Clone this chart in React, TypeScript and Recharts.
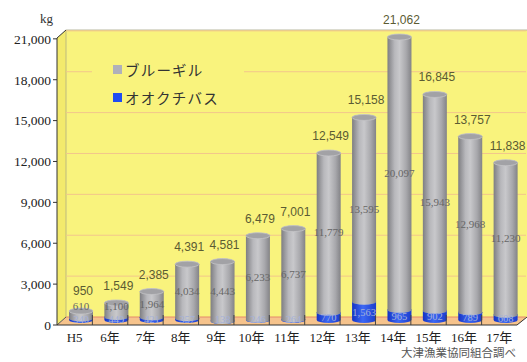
import { Bar, BarChart, CartesianGrid, LabelList, Legend, XAxis, YAxis } from 'recharts'

// catch by fiscal year (kg)
const years = ['H5', '6年', '7年', '8年', '9年', '10年', '11年', '12年', '13年', '14年', '15年', '16年', '17年']
const bluegill = [610, 1100, 1964, 4034, 4443, 6233, 6737, 11779, 13595, 20097, 15943, 12968, 11230]
const bass = [340, 449, 421, 357, 138, 246, 264, 770, 1563, 965, 902, 789, 608]
const yTicks = [0, 3000, 6000, 9000, 12000, 15000, 18000, 21000]

const data = years.map((year, i) => ({
  year,
  bass: bass[i],
  bluegill: bluegill[i],
  total: bass[i] + bluegill[i],
}))

// frame geometry
const W = 527
const H = 362
const LEFT = 57
const RIGHT = 517
const TOP = 38
const BOTTOM = 325
const DX = 9
const DY = 8
const BAR_DX = 6
const BAND = (RIGHT - LEFT) / years.length

const WALL = '#f9f37d'
const SERIF = '"Liberation Serif", "Noto Sans CJK JP", serif'
const SANS = '"Liberation Sans", Arial, sans-serif'
const CJK = '"Noto Sans CJK JP", sans-serif'

const fmt = (v: number) => v.toLocaleString('en-US')

function cylinderPath(x0: number, x1: number, yt: number, yb: number, ry: number) {
  const rx = (x1 - x0) / 2
  return `M${x0},${yt} L${x0},${yb} A${rx},${ry} 0 0 0 ${x1},${yb} L${x1},${yt} A${rx},${ry} 0 0 0 ${x0},${yt} Z`
}

function BluegillShape(p: any) {
  const { x, y, width, height } = p
  if (!height) return null
  const x0 = x + BAR_DX
  const x1 = x0 + width
  const yt = y - 1
  const yb = y + height - 2
  return (
    <g>
      <path d={cylinderPath(x0, x1, yt, yb, 3)} fill="url(#grayBody)" />
      <ellipse cx={(x0 + x1) / 2} cy={yt} rx={width / 2} ry={3} fill="#a2a2a6" stroke="#c4c4c7" strokeWidth={0.8} />
    </g>
  )
}

function BassShape(p: any) {
  const { x, y, width, height } = p
  if (!height) return null
  const x0 = x + BAR_DX
  const x1 = x0 + width
  const yt = y - 2
  const yb = Math.max(y + height - 5, yt)
  return (
    <g>
      <path d={cylinderPath(x0, x1, yt, yb, 3)} fill="url(#blueBody)" />
      <ellipse cx={(x0 + x1) / 2} cy={yt} rx={width / 2} ry={3} fill="#4a78f8" />
    </g>
  )
}

function TotalLabel(p: any) {
  const { x, y, width, value } = p
  // keep clear of the inner label on the shortest bar
  const base = Math.min(y - 14, 295)
  return (
    <text x={x + width / 2 + BAR_DX + 2} y={base} textAnchor="middle" fontFamily={SANS} fontSize={12} fill="#5b5b33">
      {fmt(value)}
    </text>
  )
}

function BluegillLabel(p: any) {
  const { x, y, width, height, value } = p
  // short segments push their label up toward the cap
  const cy = Math.min(y + height / 2 - 2, 305.5)
  return (
    <text x={x + width / 2 + BAR_DX} y={cy} textAnchor="middle" dominantBaseline="central" fontFamily={SERIF} fontSize={11} fill="#666">
      {fmt(value)}
    </text>
  )
}

function BassLabel(p: any) {
  const { x, y, width, height, value } = p
  const cy = Math.min(y + height / 2 - 2, 319)
  return (
    <text x={x + width / 2 + BAR_DX} y={cy} textAnchor="middle" dominantBaseline="central" fontFamily={SERIF} fontSize={10.5} fill="#a4b0d8">
      {fmt(value)}
    </text>
  )
}

function YearTick(p: any) {
  const { x, y, payload, index } = p
  return (
    <g>
      {index < years.length - 1 && (
        <line x1={x + BAND / 2} x2={x + BAND / 2} y1={y - 10} y2={y} stroke="#444" strokeWidth={1} />
      )}
      <text x={x} y={y + 17} textAnchor="middle" fontFamily={SERIF} fontSize={13} fill="#222">
        {payload.value}
      </text>
    </g>
  )
}

function GridLine(p: any) {
  const { x1, x2, y1, y2 } = p
  if (y1 <= TOP + 0.5) return <g key={p.key} />
  const floor = y1 >= BOTTOM - 0.5
  return (
    <line
      key={p.key}
      x1={x1 + DX}
      x2={x2 + DX}
      y1={y1 - DY}
      y2={y2 - DY}
      stroke={floor ? '#e48a6c' : '#f2c68c'}
      strokeWidth={1}
    />
  )
}

function LegendBox(props: any) {
  const items = [...(props.payload || [])].reverse()
  const swatch: Record<string, string> = { bluegill: '#b0b0ba', bass: '#1f4cf2' }
  return (
    <div style={{ background: WALL, paddingLeft: 21, width: 131 }}>
      {items.map((it: any) => (
        <div key={it.dataKey} style={{ display: 'flex', alignItems: 'center', height: 28 }}>
          <span style={{ display: 'inline-block', width: 9, height: 9, background: swatch[it.dataKey], marginRight: 3 }} />
          <span style={{ fontFamily: CJK, fontSize: 14.5, letterSpacing: 1.2, color: '#333' }}>{it.value}</span>
        </div>
      ))}
    </div>
  )
}

export default function App() {
  return (
    <div style={{ position: 'absolute', left: 0, top: 0, width: W, height: H, background: '#fff' }}>
      <svg width={W} height={H} style={{ position: 'absolute', left: 0, top: 0 }}>
        <polygon points={`${LEFT},${TOP} ${LEFT + DX},${TOP - DY} ${LEFT + DX},${BOTTOM - DY} ${LEFT},${BOTTOM}`} fill="#f3ea6c" />
        <rect x={LEFT + DX} y={TOP - DY} width={W - LEFT - DX} height={BOTTOM - TOP} fill={WALL} />
        <polygon points={`${LEFT},${BOTTOM} ${LEFT + DX},${BOTTOM - DY} ${W},${BOTTOM - DY} ${RIGHT},${BOTTOM}`} fill="#f6c38c" />
        <line x1={LEFT + DX} x2={W} y1={TOP - DY} y2={TOP - DY} stroke="#b8b8a0" />
        <line x1={LEFT + DX} x2={LEFT + DX} y1={TOP - DY} y2={BOTTOM - DY} stroke="#b0ad80" strokeWidth={0.8} />
        <line x1={LEFT} x2={LEFT + DX} y1={TOP} y2={TOP - DY} stroke="#333" />
        <line x1={LEFT} x2={LEFT + DX} y1={BOTTOM} y2={BOTTOM - DY} stroke="#555" />
        <line x1={RIGHT} x2={W} y1={BOTTOM} y2={BOTTOM - DY} stroke="#333" />
        <text x={53} y={23} textAnchor="end" fontFamily={SERIF} fontSize={13} fill="#333">kg</text>
        <text x={516} y={357} textAnchor="end" fontFamily={CJK} fontSize={11.5} fill="#555">大津漁業協同組合調べ</text>
      </svg>
      <div style={{ position: 'absolute', left: 0, top: 0 }}>
        <BarChart width={W} height={H} data={data} margin={{ top: TOP, right: W - RIGHT, bottom: 0, left: 0 }} barSize={24}>
          <defs>
            <linearGradient id="grayBody" x1="0" x2="1" y1="0" y2="0">
              <stop offset="0" stopColor="#7e7e82" />
              <stop offset="0.3" stopColor="#b8b8bc" />
              <stop offset="0.5" stopColor="#c8c8cb" />
              <stop offset="0.78" stopColor="#a8a8ac" />
              <stop offset="1" stopColor="#838387" />
            </linearGradient>
            <linearGradient id="blueBody" x1="0" x2="1" y1="0" y2="0">
              <stop offset="0" stopColor="#1432c4" />
              <stop offset="0.45" stopColor="#3c68f4" />
              <stop offset="1" stopColor="#1a3ccc" />
            </linearGradient>
          </defs>
          <CartesianGrid vertical={false} horizontal={GridLine} />
          <XAxis
            dataKey="year"
            height={H - BOTTOM}
            tickLine={false}
            tickSize={0}
            tickMargin={0}
            interval={0}
            axisLine={{ stroke: '#333' }}
            tick={YearTick}
          />
          <YAxis
            width={LEFT}
            domain={[0, 21000]}
            ticks={yTicks}
            tickFormatter={fmt}
            tickSize={4}
            tickMargin={2}
            axisLine={{ stroke: '#333' }}
            tickLine={{ stroke: '#333' }}
            tick={{ fontFamily: SERIF, fontSize: 13.5, fill: '#222' }}
          />
          <Legend
            layout="vertical"
            align="center"
            verticalAlign="middle"
            wrapperStyle={{ left: 92, top: 55, width: 152 }}
            content={LegendBox}
          />
          <Bar dataKey="bass" name="オオクチバス" stackId="catch" fill="#1f4cf2" shape={BassShape} isAnimationActive={false}>
            <LabelList dataKey="bass" content={BassLabel} />
          </Bar>
          <Bar dataKey="bluegill" name="ブルーギル" stackId="catch" fill="#b0b0ba" shape={BluegillShape} isAnimationActive={false}>
            <LabelList dataKey="bluegill" content={BluegillLabel} />
            <LabelList dataKey="total" content={TotalLabel} />
          </Bar>
        </BarChart>
      </div>
    </div>
  )
}
